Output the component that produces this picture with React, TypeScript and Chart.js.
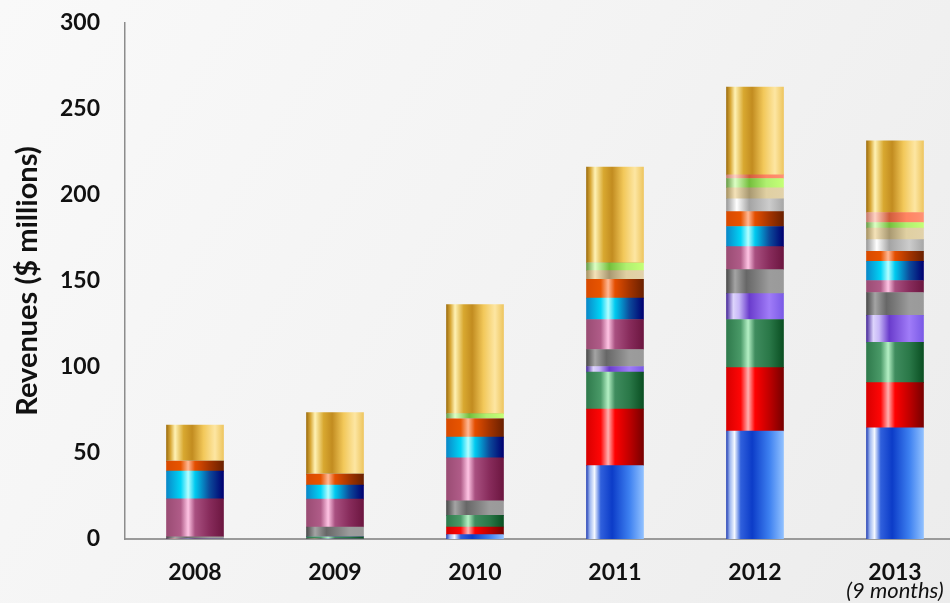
import React, { useEffect, useRef } from "react";
import { Chart, registerables } from "chart.js";

Chart.register(...registerables);

// ---- data (values in $ millions) ----
const categories = ["2008", "2009", "2010", "2011", "2012", "2013"];
const subLabel2013 = "(9 months)";
const yTitle = "Revenues ($ millions)";
const yTicks = [0, 50, 100, 150, 200, 250, 300];

const blueSeries = [0, 0, 2.5, 42.7, 62.8, 64.6];
const redSeries = [0, 0, 4.5, 32.8, 36.8, 26.3];
const greenSeries = [0, 1.3, 6.7, 21.5, 28.0, 23.4];
const purpleSeries = [0, 0, 0, 3.3, 15.1, 15.7];
const graySeries = [1.3, 5.7, 8.5, 9.9, 13.9, 13.3];
const mauveSeries = [22.0, 16.2, 25.0, 17.4, 13.4, 7.0];
const cyanSeries = [16.2, 8.1, 12.0, 12.4, 11.7, 11.1];
const orangeSeries = [5.8, 6.4, 10.6, 11.0, 8.6, 5.8];
const silverSeries = [0, 0, 0, 0, 7.5, 6.9];
const tanSeries = [0, 0, 0, 5.0, 6.4, 6.6];
const lightGreenSeries = [0, 0, 3.1, 4.6, 5.4, 3.3];
const salmonSeries = [0, 0, 0, 0, 2.1, 5.8];
const goldSeries = [20.9, 35.8, 63.4, 55.7, 51.1, 41.7];

type Stop = [number, string];

const BAR_W = 57;

const seriesDefs: { label: string; data: number[]; stops: Stop[] }[] = [
  { label: "Segment 1", data: blueSeries, stops: [[0, "#2a46b8"], [0.06, "#9fb8f0"], [0.14, "#f4f8ff"], [0.25, "#3060dc"], [0.45, "#0c3cc8"], [0.75, "#3d80f0"], [1, "#90c0ff"]] },
  { label: "Segment 2", data: redSeries, stops: [[0, "#d80000"], [0.25, "#ff0606"], [0.38, "#ffb0b0"], [0.5, "#ff0000"], [0.75, "#c00000"], [1, "#780000"]] },
  { label: "Segment 3", data: greenSeries, stops: [[0, "#2f7a4c"], [0.25, "#4a9a68"], [0.38, "#b4f0c4"], [0.5, "#3f8c5e"], [0.75, "#2a7848"], [1, "#0a4f22"]] },
  { label: "Segment 4", data: purpleSeries, stops: [[0, "#4a2c9c"], [0.12, "#ddd4fc"], [0.22, "#c8b8f8"], [0.4, "#6a3ccc"], [0.75, "#a07cf8"], [1, "#7a5ae6"]] },
  { label: "Segment 5", data: graySeries, stops: [[0, "#4c4c4c"], [0.15, "#a4a4a4"], [0.35, "#676767"], [0.55, "#808080"], [0.75, "#9c9c9c"], [1, "#9a9a9a"]] },
  { label: "Segment 6", data: mauveSeries, stops: [[0, "#9a4c74"], [0.25, "#b05c88"], [0.38, "#ffc4e4"], [0.5, "#a85080"], [0.75, "#882c5c"], [1, "#6c1640"]] },
  { label: "Segment 7", data: cyanSeries, stops: [[0, "#0a88c8"], [0.25, "#00d4f6"], [0.38, "#b4ffff"], [0.5, "#00caf0"], [0.75, "#0c4c9c"], [1, "#000070"]] },
  { label: "Segment 8", data: orangeSeries, stops: [[0, "#d84a00"], [0.25, "#e85400"], [0.38, "#ffb894"], [0.5, "#e44e00"], [0.75, "#a43400"], [1, "#6a2000"]] },
  { label: "Segment 9", data: silverSeries, stops: [[0, "#9a9a9a"], [0.18, "#ffffff"], [0.4, "#a4a4a4"], [0.75, "#cccccc"], [1, "#a8a8a8"]] },
  { label: "Segment 10", data: tanSeries, stops: [[0, "#a89464"], [0.15, "#f4e2b8"], [0.4, "#a89870"], [0.7, "#e0d0a2"], [1, "#e2d2aa"]] },
  { label: "Segment 11", data: lightGreenSeries, stops: [[0, "#6a9e48"], [0.15, "#dcffc4"], [0.4, "#74be3c"], [0.7, "#b0f070"], [1, "#c4ff76"]] },
  { label: "Segment 12", data: salmonSeries, stops: [[0, "#c87a6c"], [0.15, "#ffd2c4"], [0.4, "#d05c3c"], [0.7, "#ff8462"], [1, "#ff9274"]] },
  { label: "Segment 13", data: goldSeries, stops: [[0, "#a07010"], [0.07, "#d8a838"], [0.15, "#fff2b4"], [0.3, "#d8a830"], [0.45, "#c28c20"], [0.65, "#f2c85a"], [0.85, "#fde6a2"], [1, "#eec660"]] },
];

const FONT = "Lato, 'Open Sans', sans-serif";

export default function App() {
  const ref = useRef<HTMLCanvasElement | null>(null);

  useEffect(() => {
    if (!ref.current) return;

    const bgPlugin = {
      id: "bg",
      beforeDraw(chart: any) {
        const c = chart.ctx;
        const g = c.createLinearGradient(0, 0, chart.width, chart.height);
        g.addColorStop(0, "#f9f9f9");
        g.addColorStop(0.5, "#f3f3f3");
        g.addColorStop(1, "#ececec");
        c.save();
        c.fillStyle = g;
        c.fillRect(0, 0, chart.width, chart.height);
        c.restore();
      },
    };

    const subLabelPlugin = {
      id: "subLabel",
      afterDraw(chart: any) {
        const x = chart.scales.x;
        const c = chart.ctx;
        c.save();
        c.font = `italic 22px ${FONT}`;
        c.fillStyle = "#111";
        c.textAlign = "center";
        c.textBaseline = "middle";
        c.fillText(subLabel2013, x.getPixelForValue(categories.length - 1), 591);
        c.restore();
      },
    };

    const chart = new Chart(ref.current, {
      type: "bar",
      data: {
        labels: categories,
        datasets: seriesDefs.map((s) => ({
          label: s.label,
          data: s.data,
          barThickness: BAR_W,
          borderWidth: 0,
          backgroundColor: (ctx: any) => {
            const ch = ctx.chart;
            const xs = ch.scales && ch.scales.x;
            const fallback = s.stops[Math.min(3, s.stops.length - 1)][1];
            if (!xs || typeof ctx.dataIndex !== "number") return fallback;
            const cx = xs.getPixelForValue(ctx.dataIndex);
            if (!isFinite(cx)) return fallback;
            const g = ch.ctx.createLinearGradient(cx - BAR_W / 2, 0, cx + BAR_W / 2, 0);
            s.stops.forEach(([o, col]) => g.addColorStop(o, col));
            return g;
          },
        })),
      },
      options: {
        responsive: false,
        animation: false,
        layout: { padding: { top: 23, right: 0, bottom: 0, left: 0 } },
        plugins: {
          legend: { display: false },
          tooltip: { enabled: false },
        },
        scales: {
          x: {
            stacked: true,
            grid: { display: false, drawTicks: false },
            border: { display: true, color: "#9a9a9a", width: 2 },
            ticks: {
              color: "#111",
              padding: 20,
              font: { family: FONT, weight: "bold", size: 23 },
            },
            afterFit: (scale: any) => {
              scale.height = 64;
            },
          },
          y: {
            stacked: true,
            min: 0,
            max: 300,
            afterBuildTicks: (scale: any) => {
              scale.ticks = yTicks.map((v) => ({ value: v }));
            },
            grid: { display: false, drawTicks: false },
            border: { display: true, color: "#8c8c8c", width: 1.5 },
            ticks: {
              color: "#111",
              padding: 25,
              font: { family: FONT, weight: "bold", size: 23 },
            },
            title: {
              display: true,
              text: yTitle,
              color: "#111",
              font: { family: FONT, weight: "bold", size: 29 },
              padding: { top: 10, bottom: 0 },
            },
            afterFit: (scale: any) => {
              scale.width = 125;
              scale.paddingTop = 0;
              scale.paddingBottom = 0;
            },
          },
        },
      },
      plugins: [bgPlugin, subLabelPlugin],
    } as any);

    return () => chart.destroy();
  }, []);

  return (
    <div style={{ position: "fixed", left: 0, top: 0, width: 950, height: 603, overflow: "hidden" }}>
      <canvas ref={ref} width={965} height={603} style={{ display: "block" }} />
    </div>
  );
}
